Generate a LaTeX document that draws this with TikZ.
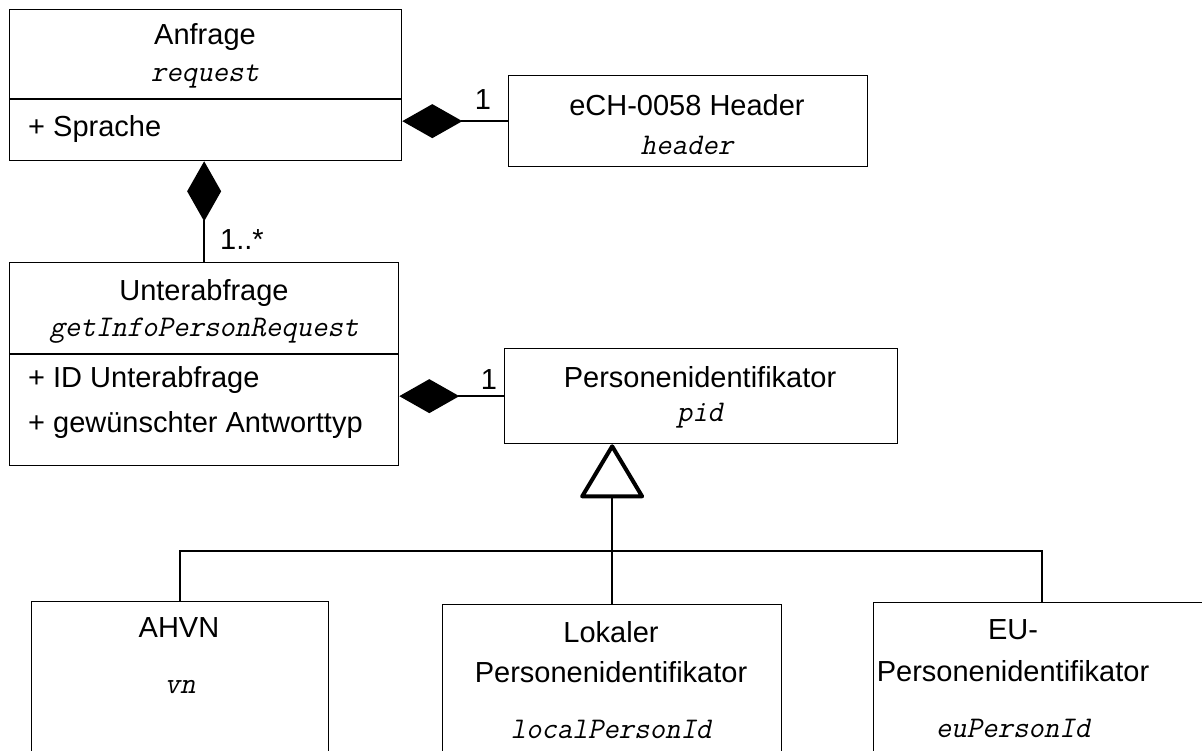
\documentclass[tikz,border=0pt]{standalone}
\usepackage{fontspec}
\setmainfont{Liberation Sans}
\newfontfamily\codefont{Latin Modern Mono}[FakeSlant=0.21]
\usetikzlibrary{arrows.meta}
\tikzset{
  box/.style={draw=black, line width=1.3pt, fill=white, anchor=north west, inner sep=0pt},
  lbl/.style={inner sep=0pt, font=\fontsize{29}{34}\selectfont},
  attr/.style={lbl, anchor=west},
  code/.style={inner sep=0pt, font=\fontsize{30}{34}\selectfont\codefont},
  conn/.style={draw=black, line width=1.5pt},
  comp/.style={conn, -{Diamond[length=60pt, width=34pt, fill=black]}},
  gen/.style={conn, -{Triangle[open, length=56pt, width=66pt, line width=4pt, fill=white, round]}},
  mult/.style={inner sep=0pt, font=\fontsize{29}{34}\selectfont}
}
\begin{document}
\begin{tikzpicture}[x=1pt, y=-1pt]
\useasboundingbox (0,0) rectangle (1202,751);
\clip (0,0) rectangle (1202,751);

% boxes
\node[box, minimum width=392pt, minimum height=151pt] (anf) at (9,9) {};
\node[box, minimum width=359pt, minimum height=91pt] (hdr) at (508,75) {};
\node[box, minimum width=389pt, minimum height=203pt] (unt) at (9,262) {};
\node[box, minimum width=393pt, minimum height=95pt] (pid) at (504,348) {};
\node[box, minimum width=297pt, minimum height=170pt] (ahvn) at (31,601) {};
\node[box, minimum width=339pt, minimum height=170pt] (lok) at (442,604) {};
\node[box, minimum width=337pt, minimum height=170pt] (eu) at (873,602) {};

% compartment dividers
\draw[line width=1.3pt] (anf.west |- 0,99) -- (anf.east |- 0,99);
\draw[line width=1.3pt] (unt.west |- 0,354) -- (unt.east |- 0,354);

% texts
\node[lbl] (anfT) at (205,37) {Anfrage};
\node[code] (anfC) at (205,77) {request};
\node[attr] (anfA) at (28,129) {+ Sprache};

\node[lbl] (hdrT) at (687,105) {eCH-0058 Header};
\node[code] (hdrC) at (687,145) {header};

\node[lbl] (untT) at (204,293) {Unterabfrage};
\node[code] (untC) at (204,331) {getInfoPersonRequest};
\node[attr] (untA1) at (28,380) {+ ID Unterabfrage};
\node[attr] (untA2) at (28,425) {+ gewünschter Antworttyp};

\node[lbl] (pidT) at (700,377) {Personenidentifikator};
\node[code] (pidC) at (700,416) {pid};

\node[lbl] (ahvnT) at (179,628) {AHVN};
\node[code] (ahvnC) at (180,687) {vn};

\node[lbl] (lokT1) at (611,632) {Lokaler};
\node[lbl] (lokT2) at (611,672) {Personenidentifikator};
\node[code] (lokC) at (611,729) {localPersonId};

\node[lbl] (euT1) at (1013,630) {EU-};
\node[lbl] (euT2) at (1013,671) {Personenidentifikator};
\node[code] (euC) at (1013,728) {euPersonId};

% compositions
\draw[comp] (hdr.west) -- (hdr.west -| anf.east);
\draw[comp] (pid.west) -- (pid.west -| unt.east);
\draw[comp] (unt.north) -- (unt.north |- anf.south);

% multiplicities
\node[mult] (m1) at (483,100) {1};
\node[mult] (m2) at (489,380) {1};
\node[mult] (m3) at (242,240) {1..*};

% generalization
\coordinate (junc) at (lok.north |- 0,551);
\draw[gen] (lok.north) -- (lok.north |- pid.south);
\draw[conn] (ahvn.north) |- (junc) -| (eu.north);
\end{tikzpicture}
\end{document}
